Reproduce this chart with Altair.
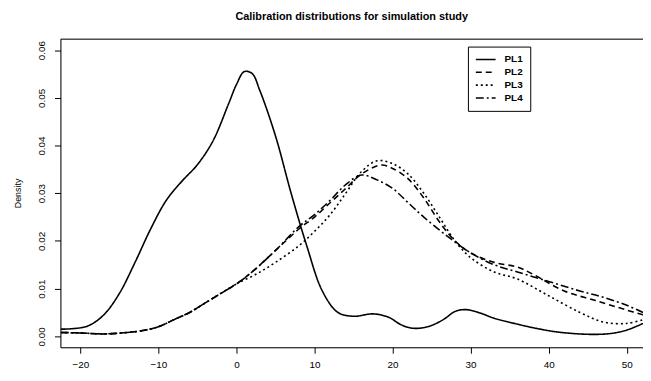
import altair as alt
import pandas as pd

# ---- data ----
pl1_x = [-22.5, -21, -19, -17, -15, -13, -11, -9, -7, -5, -3, -1, 0, 1, 2, 3, 5, 7, 9, 11, 13, 15, 17.5, 19.5, 21, 22.5, 24.5, 26.5, 28, 29.3, 31, 33, 35.6, 38, 40.7, 43, 45.8, 48, 50, 52.1]
pl1_y = [0.0015, 0.0016, 0.0022, 0.0045, 0.009, 0.0155, 0.0225, 0.0285, 0.0325, 0.036, 0.041, 0.0488, 0.0528, 0.0555, 0.0551, 0.0515, 0.042, 0.030, 0.019, 0.0095, 0.005, 0.0042, 0.0047, 0.004, 0.0025, 0.0017, 0.002, 0.0035, 0.0052, 0.0056, 0.005, 0.0038, 0.0027, 0.0018, 0.001, 0.0006, 0.0004, 0.0006, 0.0013, 0.0027]

pl2_x = [-22.5, -20, -17, -14, -12, -10, -8, -6, -4, -2, 0, 2, 5, 8, 10, 12, 14, 16, 18.5, 20, 22, 24, 26, 28, 30, 33, 36, 38, 42, 46, 50, 52.1]
pl2_y = [0.0008, 0.0007, 0.0005, 0.0008, 0.0012, 0.002, 0.0035, 0.005, 0.007, 0.009, 0.011, 0.0135, 0.018, 0.0225, 0.025, 0.028, 0.031, 0.034, 0.0359, 0.0352, 0.033, 0.029, 0.024, 0.020, 0.0175, 0.0155, 0.0145, 0.013, 0.0095, 0.0075, 0.0055, 0.0045]

pl3_x = [-22.5, -20, -17, -14, -12, -10, -8, -6, -4, -2, 0, 2.5, 5, 8, 10, 12, 14, 16, 18, 20, 22, 24, 26, 28, 30, 33, 36, 40, 44, 47, 50, 52.1]
pl3_y = [0.0008, 0.0007, 0.0005, 0.0008, 0.0012, 0.002, 0.0035, 0.005, 0.007, 0.009, 0.011, 0.013, 0.0155, 0.019, 0.022, 0.0255, 0.030, 0.0345, 0.0368, 0.0362, 0.034, 0.030, 0.025, 0.020, 0.0165, 0.0135, 0.012, 0.0085, 0.005, 0.003, 0.0027, 0.0035]

pl4_x = [-22.5, -20, -17, -14, -12, -10, -8, -6, -4, -2, 0, 2, 5, 8, 10, 12, 14, 16, 18, 20, 22, 24, 27, 30, 33, 36, 40, 44, 47, 50, 52.1]
pl4_y = [0.0008, 0.0007, 0.0005, 0.0008, 0.0012, 0.002, 0.0035, 0.005, 0.007, 0.009, 0.011, 0.0135, 0.018, 0.023, 0.0255, 0.0285, 0.0318, 0.0338, 0.0328, 0.031, 0.028, 0.025, 0.021, 0.0175, 0.015, 0.0135, 0.0115, 0.0095, 0.0082, 0.0065, 0.005]

series_names = ["PL1", "PL2", "PL3", "PL4"]
series_dash = [[1, 0], [6, 4], [2, 3], [8, 3, 2, 3]]
x_ticks = [-20, -10, 0, 10, 20, 30, 40, 50]
y_ticks = [0.0, 0.01, 0.02, 0.03, 0.04, 0.05, 0.06]

rows = []
for name, xs, ys in zip(series_names, [pl1_x, pl2_x, pl3_x, pl4_x], [pl1_y, pl2_y, pl3_y, pl4_y]):
    for i, (a, b) in enumerate(zip(xs, ys)):
        rows.append({"series": name, "x": a, "density": b, "order": i})
df = pd.DataFrame(rows)

FONT = "Liberation Sans"
x_scale = alt.Scale(domain=[-22.56, 52.09], nice=False, zero=False)
y_scale = alt.Scale(domain=[-0.0023, 0.0624], nice=False, zero=False)

lines = alt.Chart(df).mark_line(
    color="black", strokeWidth=1.6, interpolate="catmull-rom", clip=True
).encode(
    x=alt.X("x:Q", scale=x_scale,
            axis=alt.Axis(values=x_ticks, title=None, grid=False, tickSize=6,
                          labelPadding=6, labelFontSize=10, labelFont=FONT,
                          domainColor="black", tickColor="black", labelColor="black")),
    y=alt.Y("density:Q", scale=y_scale,
            axis=alt.Axis(values=y_ticks, format=".2f", title="Density", grid=False,
                          tickSize=6, labelAngle=-90, labelAlign="center",
                          labelBaseline="bottom", labelPadding=8, labelFontSize=10,
                          labelFont=FONT, titleFont=FONT, titleFontSize=9,
                          titleFontWeight="normal", titlePadding=14,
                          domainColor="black", tickColor="black", labelColor="black")),
    strokeDash=alt.StrokeDash("series:N",
                              scale=alt.Scale(domain=series_names, range=series_dash),
                              legend=alt.Legend(title=None, orient="none", legendX=412,
                                                legendY=8, symbolType="stroke",
                                                symbolSize=400, symbolStrokeWidth=1.6,
                                                symbolStrokeColor="black",
                                                clipHeight=12,
                                                labelFont=FONT, labelFontSize=10,
                                                labelFontWeight="bold",
                                                strokeColor="black", padding=7,
                                                rowPadding=1, labelOffset=8)),
    order="order:Q",
    detail="series:N",
)

top_frame = alt.Chart(df).mark_line(opacity=0).encode(
    x=alt.X("x:Q", scale=x_scale,
            axis=alt.Axis(orient="top", labels=False, ticks=False, title=None,
                          grid=False, domainColor="black")),
    y=alt.Y("density:Q", scale=y_scale),
    detail="series:N",
)

chart = alt.layer(lines, top_frame).resolve_axis(x="independent").properties(
    width=589,
    height=312,
    title=alt.TitleParams("Calibration distributions for simulation study",
                          font=FONT, fontSize=11, fontWeight="bold", offset=17,
                          anchor="middle", color="black"),
    autosize=alt.AutoSizeParams(type="none"),
    padding={"left": 53, "top": 29, "right": 0, "bottom": 24},
).configure_view(stroke=None).configure(background="white")

chart.save("out.html", embed_options={"renderer": "svg", "actions": False})
